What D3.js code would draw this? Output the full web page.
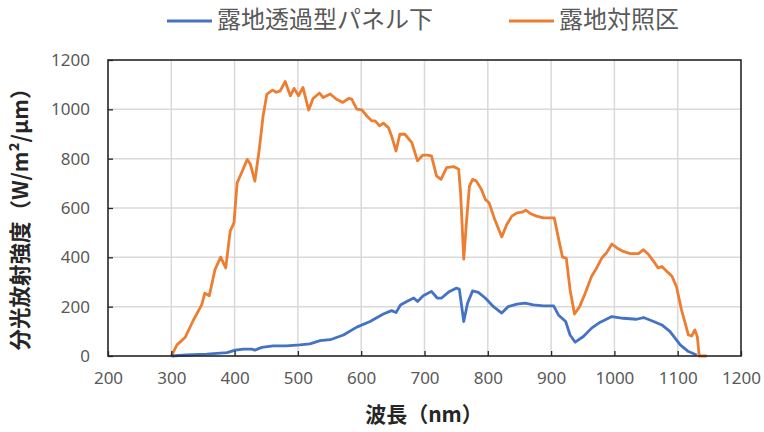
<!DOCTYPE html>
<html>
<head>
<meta charset="utf-8">
<script src="https://cdn.jsdelivr.net/npm/d3@7"></script>
<style>
  body { margin: 0; background: #ffffff; }
  svg { display: block; }
</style>
</head>
<body>
<svg id="chart" width="764" height="432"></svg>
<script>
// series names
var seriesNames = ["露地透過型パネル下", "露地対照区"];

// 露地対照区 (orange)
var controlNm = [300, 309, 322, 335, 348, 353, 360, 369, 378, 386, 393, 399, 404, 411, 420, 425, 432, 439, 445, 451,
                 460, 466, 472, 480, 488, 494, 501, 508, 517, 524, 534, 540, 551, 561, 571, 580, 585, 593, 601, 609,
                 617, 622, 629, 635, 643, 648, 655, 661, 669, 680, 689, 697, 704, 711, 719, 726, 735, 746, 754, 757,
                 762, 767, 771, 776, 782, 790, 796, 802, 811, 822, 830, 838, 846, 854, 860, 867, 877, 888, 898, 905,
                 911, 918, 924, 930, 937, 945, 954, 964, 972, 980, 988, 996, 1004, 1014, 1025, 1038, 1046, 1054, 1062, 1069,
                 1075, 1083, 1091, 1098, 1106, 1117, 1122, 1127, 1131, 1134, 1146];
var controlVal = [0, 45, 76, 146, 207, 255, 244, 350, 401, 357, 506, 540, 702, 743, 797, 777, 709, 838, 973, 1062,
                  1078, 1069, 1075, 1113, 1055, 1085, 1055, 1089, 997, 1044, 1066, 1048, 1062, 1041, 1028, 1044, 1041, 1001, 998, 973,
                  953, 953, 933, 944, 926, 892, 831, 899, 899, 865, 791, 814, 814, 811, 730, 716, 764, 768, 757, 662,
                  393, 567, 689, 716, 709, 675, 635, 621, 553, 483, 533, 567, 580, 583, 591, 578, 567, 560, 560, 560,
                  485, 401, 397, 268, 170, 200, 255, 323, 357, 397, 420, 454, 438, 424, 415, 415, 431, 411, 384, 357,
                  363, 343, 323, 282, 187, 85, 81, 106, 79, 0, 0];

// 露地透過型パネル下 (blue)
var panelNm = [300, 324, 356, 388, 401, 414, 427, 432, 443, 461, 482, 503, 519, 535, 551, 572, 593, 614, 635, 648,
               655, 662, 672, 683, 689, 698, 711, 720, 727, 738, 750, 755, 762, 768, 776, 785, 796, 809, 822, 832,
               846, 859, 872, 888, 904, 912, 923, 930, 938, 951, 964, 977, 996, 1014, 1035, 1046, 1062, 1075, 1088, 1104,
               1117, 1130];
var panelVal = [0, 4, 8, 14, 24, 28, 28, 24, 35, 41, 41, 45, 49, 62, 66, 85, 117, 140, 170, 184,
                176, 207, 221, 235, 221, 244, 262, 235, 235, 259, 275, 271, 140, 214, 264, 258, 235, 200, 174, 200,
                210, 214, 207, 203, 203, 165, 140, 85, 56, 79, 113, 136, 160, 153, 149, 156, 140, 126, 99, 45,
                18, 4];

var xTicks = [200, 300, 400, 500, 600, 700, 800, 900, 1000, 1100, 1200];
var yTicks = [0, 200, 400, 600, 800, 1000, 1200];

var colors = ["#4472c4", "#ed7d31"];

var dimensions = {
    width: 764,
    height: 432,
    margin: { top: 60, bottom: 76, right: 23, left: 108 }
};

var svg = d3.select("#chart");

var xScale = d3.scaleLinear()
               .domain([200, 1200])
               .range([dimensions.margin.left, dimensions.width - dimensions.margin.right]);

var yScale = d3.scaleLinear()
               .domain([0, 1200])
               .range([dimensions.height - dimensions.margin.bottom, dimensions.margin.top]);

var tickFont = "'Noto Sans', 'Liberation Sans', sans-serif";
var cjkFont = "'Noto Sans CJK JP', 'Noto Sans', sans-serif";

// gridlines
svg.append("g")
   .selectAll("line")
   .data(xTicks.slice(1, -1))
   .enter()
   .append("line")
   .attr("x1", function(d){ return xScale(d) })
   .attr("x2", function(d){ return xScale(d) })
   .attr("y1", yScale(0))
   .attr("y2", yScale(1200))
   .style("stroke", "#d9d9d9")
   .style("stroke-width", 1.5);

svg.append("g")
   .selectAll("line")
   .data(yTicks.slice(1, -1))
   .enter()
   .append("line")
   .attr("x1", xScale(200))
   .attr("x2", xScale(1200))
   .attr("y1", function(d){ return yScale(d) })
   .attr("y2", function(d){ return yScale(d) })
   .style("stroke", "#d9d9d9")
   .style("stroke-width", 1.5);

// lines
var lineGen = d3.line()
                .x(function(d){ return xScale(d[0]) })
                .y(function(d){ return yScale(d[1]) });

var panelData = panelNm.map(function(n, i){ return [n, panelVal[i]] });
var controlData = controlNm.map(function(n, i){ return [n, controlVal[i]] });

svg.append("path")
   .datum(controlData)
   .attr("d", lineGen)
   .style("fill", "none")
   .style("stroke", colors[1])
   .style("stroke-width", 2.8)
   .style("stroke-linejoin", "round");

svg.append("path")
   .datum(panelData)
   .attr("d", lineGen)
   .style("fill", "none")
   .style("stroke", colors[0])
   .style("stroke-width", 2.8)
   .style("stroke-linejoin", "round");

// axes
var xAxis = svg.append("g")
               .attr("transform", "translate(0," + yScale(0) + ")")
               .call(d3.axisBottom(xScale).tickValues(xTicks).tickFormat(d3.format("d")).tickSize(-5).tickPadding(16));
xAxis.select(".domain").remove();
xAxis.selectAll("line").style("stroke", "#262626").style("stroke-width", 1.3);
xAxis.selectAll("text")
     .style("font-family", tickFont)
     .style("font-size", "17px")
     .style("fill", "#595959");

var yAxis = svg.append("g")
               .attr("transform", "translate(" + xScale(200) + ",0)")
               .call(d3.axisLeft(yScale).tickValues(yTicks).tickFormat(d3.format("d")).tickSize(-5).tickPadding(18));
yAxis.select(".domain").remove();
yAxis.selectAll("line").style("stroke", "#262626").style("stroke-width", 1.3);
yAxis.selectAll("text")
     .style("font-family", tickFont)
     .style("font-size", "17px")
     .style("fill", "#595959");

// plot frame
svg.append("rect")
   .attr("x", xScale(200))
   .attr("y", yScale(1200))
   .attr("width", xScale(1200) - xScale(200))
   .attr("height", yScale(0) - yScale(1200))
   .style("fill", "none")
   .style("stroke", "#262626")
   .style("stroke-width", 1.6);

// axis titles
svg.append("text")
   .attr("x", 424)
   .attr("y", 416)
   .attr("dominant-baseline", "middle")
   .attr("text-anchor", "middle")
   .style("font-family", cjkFont)
   .style("font-weight", "bold")
   .style("font-size", "21px")
   .style("fill", "#262626")
   .text("波長（nm）");

svg.append("text")
   .attr("transform", "translate(22,214) rotate(-90)")
   .attr("dominant-baseline", "middle")
   .attr("text-anchor", "middle")
   .style("font-family", cjkFont)
   .style("font-weight", "bold")
   .style("font-size", "21.5px")
   .style("fill", "#262626")
   .text("分光放射強度（W/m²/μm）");

// legend
var legendItems = [
    { name: seriesNames[0], color: colors[0], x: 167 },
    { name: seriesNames[1], color: colors[1], x: 509 }
];

var legend = svg.append("g")
                .selectAll("g")
                .data(legendItems)
                .enter()
                .append("g")
                .attr("transform", function(d){ return "translate(" + d.x + ",21)" });

legend.append("line")
      .attr("x1", 0)
      .attr("x2", 45)
      .style("stroke", function(d){ return d.color })
      .style("stroke-width", 3);

legend.append("text")
      .attr("x", 50)
      .attr("dominant-baseline", "middle")
      .style("font-family", cjkFont)
      .style("font-size", "24px")
      .style("fill", "#595959")
      .text(function(d){ return d.name });
</script>
</body>
</html>
